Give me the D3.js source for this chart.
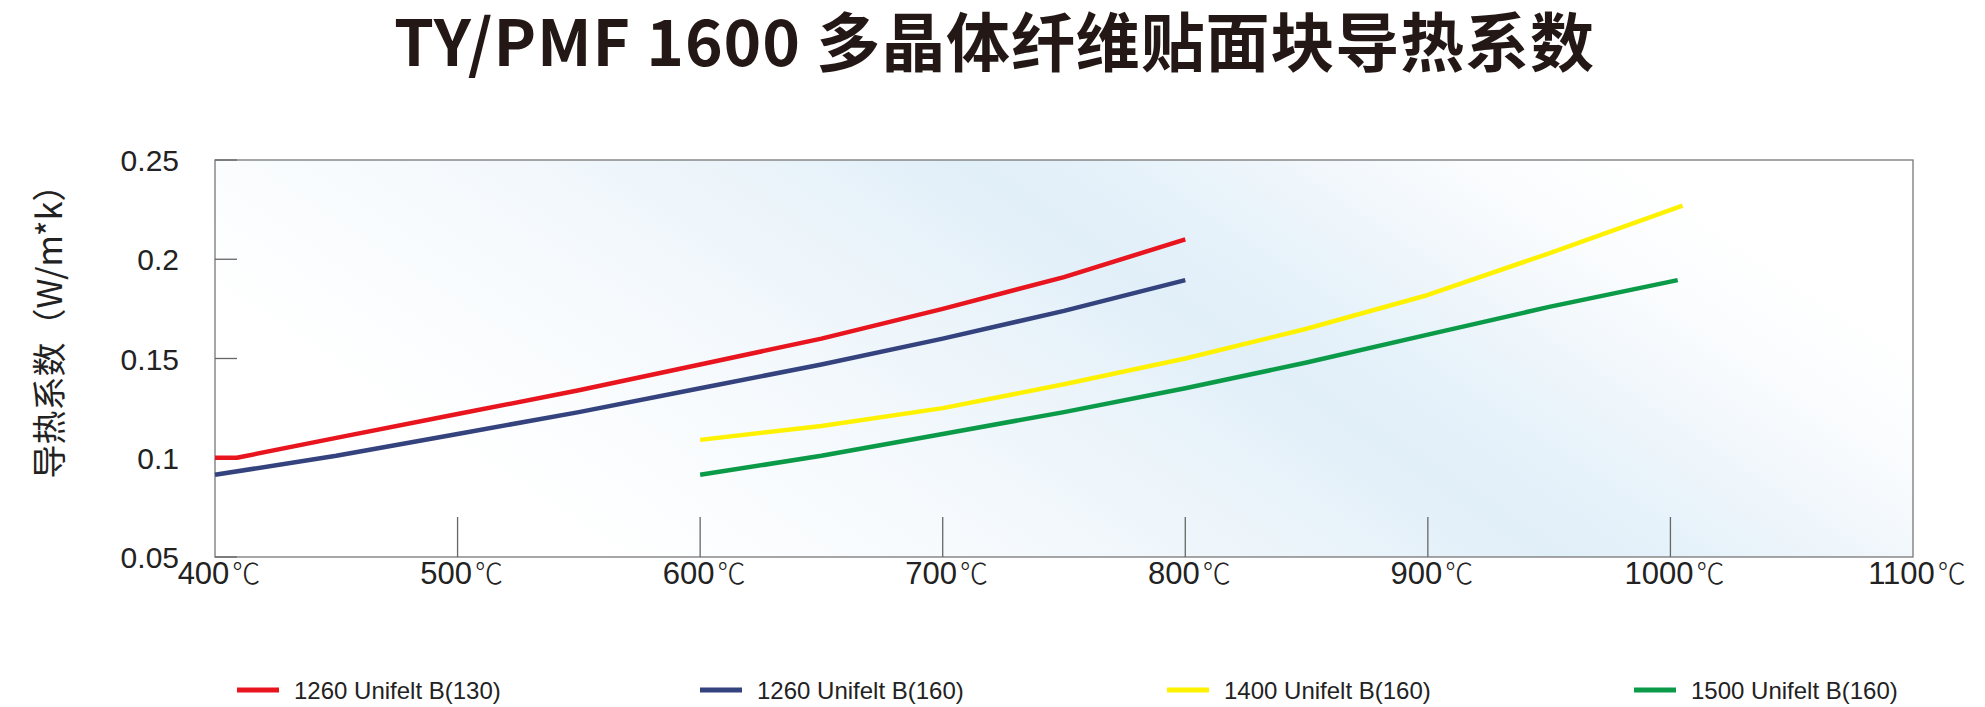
<!DOCTYPE html>
<html><head><meta charset="utf-8">
<script src="https://cdn.jsdelivr.net/npm/d3@7"></script>
<style>body{margin:0;background:#fff;}svg{display:block;font-family:"Liberation Sans",Arial,sans-serif;}</style>
</head><body>
<script>
const titleText = "TY/PMF 1600 多晶体纤维贴面块导热系数";
const yLabel = "导热系数（W/m*k）";
const xTicks = [400,500,600,700,800,900,1000,1100];
const yTicks = [0.05,0.1,0.15,0.2,0.25];
const seriesNames = ["1260 Unifelt B(130)","1260 Unifelt B(160)","1400 Unifelt B(160)","1500 Unifelt B(160)"];
const seriesColors = ["#e8141e","#34427e","#fff200","#0a9a48"];
const red = [[400,0.1],[409,0.1],[450,0.110],[500,0.122],[550,0.134],[600,0.147],[650,0.160],[700,0.175],[750,0.191],[800,0.210]];
const blue = [[400,0.0914],[450,0.101],[500,0.112],[550,0.123],[600,0.135],[650,0.147],[700,0.160],[750,0.174],[800,0.1895]];
const yellow = [[600,0.109],[650,0.116],[700,0.125],[750,0.137],[800,0.150],[850,0.165],[900,0.182],[950,0.203],[1005,0.227]];
const green = [[600,0.0914],[650,0.101],[700,0.112],[750,0.123],[800,0.135],[850,0.148],[900,0.162],[950,0.176],[1003,0.1895]];
const seriesData = [red, blue, yellow, green];

const W=1985,H=707;
const m={l:215,r:1913,t:160,b:557};
const svg=d3.select("body").append("svg").attr("width",W).attr("height",H);
const defs=svg.append("defs");
const g1=defs.append("linearGradient").attr("id","bg").attr("x1","0").attr("y1","0.35").attr("x2","1").attr("y2","0");
[[0,"#ffffff"],[0.2,"#f6fafd"],[0.38,"#ebf4fa"],[0.5,"#e1eff9"],[0.58,"#e6f2fa"],[0.66,"#eff6fb"],[0.76,"#fafcfe"],[0.85,"#ffffff"],[1,"#ffffff"]]
 .forEach(([o,c])=>g1.append("stop").attr("offset",o).attr("stop-color",c));

const x=d3.scaleLinear().domain([400,1100]).range([m.l,m.r]);
const y=d3.scaleLinear().domain([0.05,0.25]).range([m.b,m.t]);

svg.append("rect").attr("x",m.l).attr("y",m.t).attr("width",m.r-m.l).attr("height",m.b-m.t)
  .attr("fill","url(#bg)").attr("stroke","#777").attr("stroke-width",1.3);

svg.selectAll(".yt").data(yTicks).join("line").attr("x1",m.l).attr("x2",m.l+22)
  .attr("y1",d=>y(d)).attr("y2",d=>y(d)).attr("stroke","#666").attr("stroke-width",1.3);
svg.selectAll(".yl").data(yTicks).join("text").attr("x",m.l-36).attr("y",d=>y(d)+11)
  .attr("text-anchor","end").attr("font-size",30).attr("fill","#222").text(d=>String(d));
svg.selectAll(".xt").data(xTicks.slice(1,-1)).join("line").attr("x1",d=>x(d)).attr("x2",d=>x(d))
  .attr("y1",m.b).attr("y2",m.b-40).attr("stroke","#666").attr("stroke-width",1.3);
const xl=svg.selectAll(".xl").data(xTicks).join("text").attr("x",d=>x(d)+4).attr("y",584)
  .attr("text-anchor","middle").attr("font-size",31).attr("fill","#222");
xl.append("tspan").text(d=>d);
xl.append("tspan").attr("font-family","Noto Sans CJK SC").attr("font-size",28).attr("font-weight",300).attr("dx",3).text("℃");

const line=d3.line().x(d=>x(d[0])).y(d=>y(d[1])).curve(d3.curveLinear);
svg.selectAll(".ln").data(seriesData).join("path").attr("d",line).attr("fill","none")
  .attr("stroke",(d,i)=>seriesColors[i]).attr("stroke-width",4.5).attr("stroke-linejoin","round");

svg.append("text").attr("x",994).attr("y",66).attr("text-anchor","middle")
  .attr("font-family","'Noto Sans CJK SC','Liberation Sans',sans-serif").attr("font-weight",700)
  .attr("font-size",64).attr("fill","#231815").attr("textLength",1200).attr("lengthAdjust","spacing").text(titleText);

svg.append("text").attr("transform","translate(62,323) rotate(-90)").attr("text-anchor","middle")
  .attr("font-family","'Noto Sans CJK SC',sans-serif").attr("font-size",34).attr("fill","#222").text(yLabel);

const lx=[237,700,1167,1634];
const lg=svg.selectAll(".lg").data(seriesNames).join("g").attr("transform",(d,i)=>`translate(${lx[i]},690)`);
lg.append("line").attr("x1",0).attr("x2",42).attr("y1",0).attr("y2",0).attr("stroke",(d,i)=>seriesColors[i]).attr("stroke-width",5);
lg.append("text").attr("x",57).attr("y",9).attr("font-size",24).attr("fill","#222").text(d=>d);
</script>
</body></html>
